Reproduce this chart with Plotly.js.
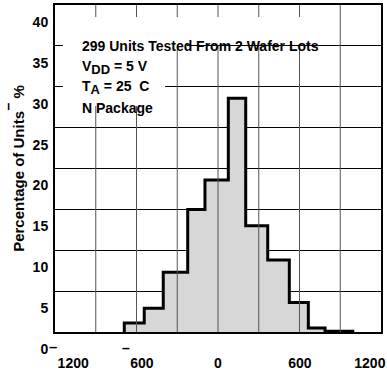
<!DOCTYPE html>
<html>
<head>
<meta charset="utf-8">
<script src="https://cdn.plot.ly/plotly-3.0.1.min.js"></script>
<style>html,body{margin:0;padding:0;background:#fff;}#chart{width:387px;height:372px;}</style>
</head>
<body>
<div id="chart"></div>
<script>
// Histogram bin edges (input offset voltage, µV) and percentage of units per bin
const binEdges = [-690, -543, -403, -223, -96, 76, 204, 366, 525, 665, 788, 1003];
const percentUnits = [1.1, 2.9, 7.3, 15.0, 18.6, 28.6, 13.0, 8.8, 3.6, 0.5, 0.1];

// Axis tick labels (as printed) and vertical grid positions
const xTickVals = [-1066, -560, 0, 603, 1118];
const xTickText = ['1200', '600', '0', '600', '1200'];
const xGridVals = [-900, -600, -300, 0, 300, 600, 900];

// Annotation text lines
const noteLines = [
  '299 Units Tested From 2 Wafer Lots',
  'V<sub><span style="font-size:13px">DD</span></sub> = 5 V',
  'T<sub><span style="font-size:13px">A</span></sub> = 25\u00a0 C',
  'N Package'
];

// plot area in pixels (layout helpers)
const L = 55, R = 381, T = 5, B = 332;
const px = x => (x - L) / (R - L);
const py = y => (B - y) / (B - T);

// step outline built from the bins
const xs = [binEdges[0]].concat(binEdges);
const ys = [0].concat(percentUnits, [percentUnits[percentUnits.length - 1]]);

const font = 'Arial, "Liberation Sans", sans-serif';

const trace = {
  type: 'scatter', mode: 'lines',
  x: xs, y: ys,
  line: {shape: 'hv', color: '#000', width: 3},
  fill: 'tozeroy', fillcolor: '#d7d7d7',
  hoverinfo: 'skip'
};

const lineY = [46, 67.5, 87.5, 108];
const annotations = noteLines.map((t, i) => ({
  xref: 'paper', yref: 'paper', x: px(80), y: py(lineY[i]),
  xanchor: 'left', yanchor: 'middle', showarrow: false,
  text: t, font: {family: font, size: 14, weight: 'bold', color: '#000'}
}));
annotations.push(
  {xref: 'paper', yref: 'paper', x: px(8), y: py(106.5), xanchor: 'center', yanchor: 'middle',
   showarrow: false, text: '\u2013', textangle: -90, font: {family: font, size: 14, weight: 'bold', color: '#000'}},
  {xref: 'paper', yref: 'paper', x: px(53), y: py(346.5), xanchor: 'center', yanchor: 'middle',
   showarrow: false, text: '\u2013', font: {family: font, size: 15, weight: 'bold', color: '#000'}},
  {xref: 'paper', yref: 'paper', x: px(126), y: py(348), xanchor: 'center', yanchor: 'middle',
   showarrow: false, text: '\u2013', font: {family: font, size: 14, weight: 'bold', color: '#000'}}
);

const whiteRect = (x0, x1, y0, y1) => ({
  type: 'rect', layer: 'above', xref: 'paper', yref: 'paper',
  x0: px(x0), x1: px(x1), y0: py(y1), y1: py(y0),
  fillcolor: '#fff', line: {width: 0}
});

const shapes = xGridVals.map(v => ({
  type: 'line', layer: 'above', xref: 'x', yref: 'paper',
  x0: v, x1: v, y0: 0, y1: 1,
  line: {color: '#555', width: 1}
})).concat([
  whiteRect(63, 330, 17, 45),
  whiteRect(63, 187, 45, 50),
  whiteRect(63, 165, 50, 106)
]);

const layout = {
  width: 387, height: 372,
  margin: {l: 55, r: 6, t: 5, b: 40},
  paper_bgcolor: '#fff', plot_bgcolor: '#fff',
  showlegend: false,
  font: {family: font, size: 14, color: '#000'},
  xaxis: {
    range: [-1200, 1200],
    tickmode: 'array', tickvals: xTickVals, ticktext: xTickText,
    ticks: '', showgrid: false, zeroline: false,
    showline: true, mirror: true, linecolor: '#000', linewidth: 2,
    tickfont: {family: font, size: 14, weight: 'bold', color: '#000'},
    ticklabelstandoff: 17
  },
  yaxis: {
    range: [0, 40],
    tickmode: 'linear', tick0: 0, dtick: 5,
    ticks: '', showgrid: true, gridcolor: '#000', gridwidth: 1, zeroline: false,
    showline: true, mirror: true, linecolor: '#000', linewidth: 2,
    tickfont: {family: font, size: 14, weight: 'bold', color: '#000'},
    ticklabelshift: 17, ticklabelstandoff: 2,
    title: {text: 'Percentage of Units\u00a0\u00a0\u00a0%', font: {family: font, size: 15, weight: 'bold', color: '#000'}, standoff: 4}
  },
  shapes: shapes,
  annotations: annotations
};

Plotly.newPlot('chart', [trace], layout, {staticPlot: true, displayModeBar: false});
</script>
</body>
</html>
